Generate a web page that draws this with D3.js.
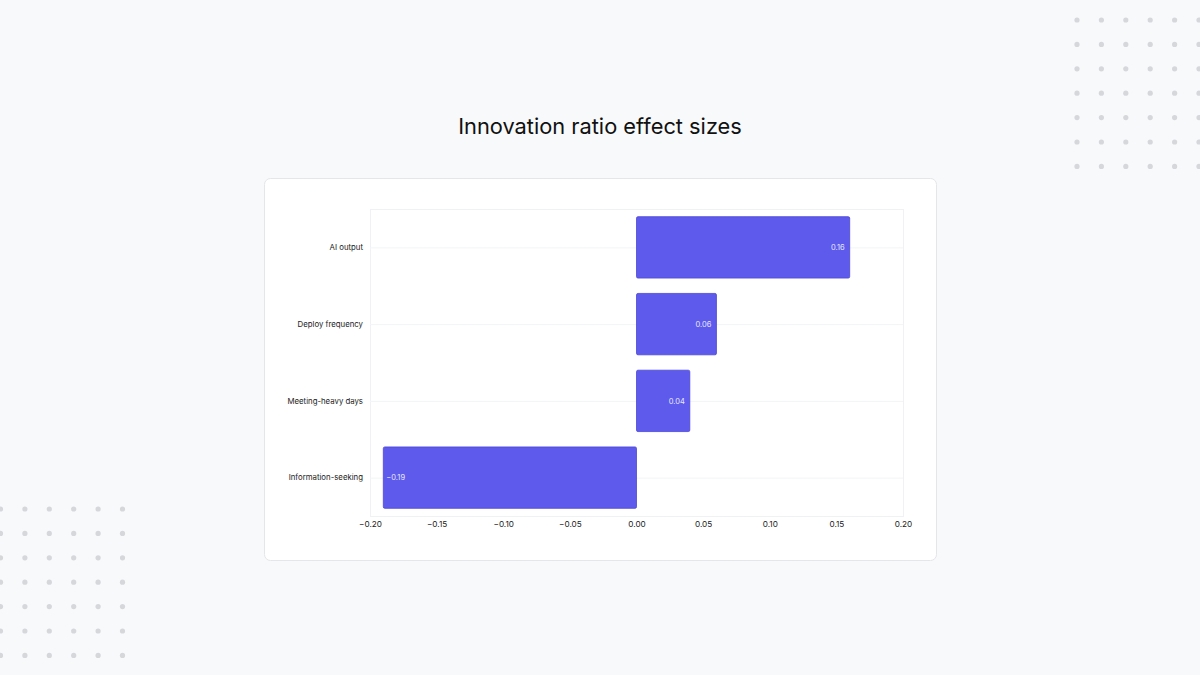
<!DOCTYPE html>
<html>
<head>
<meta charset="utf-8">
<script src="https://cdn.jsdelivr.net/npm/d3@7"></script>
<style>
  html, body { margin: 0; padding: 0; background: #f8f9fb; }
  svg { display: block; font-family: Inter, "Noto Sans", sans-serif; }
</style>
</head>
<body>
<svg id="chart" width="1200" height="675"></svg>
<script>
let categories = ["AI output", "Deploy frequency", "Meeting-heavy days", "Information-seeking"];
let effects = [0.16, 0.06, 0.04, -0.19];
let xTicks = [-0.20, -0.15, -0.10, -0.05, 0.00, 0.05, 0.10, 0.15, 0.20];

let w = 1200, h = 675;
let svg = d3.select("#chart");

svg.append("rect")
    .attr("width", w)
    .attr("height", h)
    .attr("fill", "#f8f9fb");

// decorative dot grids
function dotGrid(x0, y0, cols, rows, gap) {
    let g = svg.append("g");
    d3.range(rows).forEach(function (r) {
        d3.range(cols).forEach(function (c) {
            g.append("circle")
                .attr("cx", x0 + c * gap)
                .attr("cy", y0 + r * gap)
                .attr("r", 2.6)
                .attr("fill", "#d6d7db");
        });
    });
}
dotGrid(1077, 20, 6, 7, 24.4);
dotGrid(0.5, 509, 6, 7, 24.4);

svg.append("text")
    .attr("x", 600)
    .attr("y", 134)
    .attr("text-anchor", "middle")
    .attr("font-size", 21.8)
    .attr("fill", "#111")
    .text("Innovation ratio effect sizes");

// card
svg.append("rect")
    .attr("x", 264.5)
    .attr("y", 178.5)
    .attr("width", 672)
    .attr("height", 382)
    .attr("rx", 6)
    .attr("fill", "#ffffff")
    .attr("stroke", "#e4e6ea");

let plot = { left: 370, right: 903, top: 209, bottom: 516 };

let xScale = d3.scaleLinear()
    .domain([-0.2, 0.2])
    .range([plot.left, plot.right]);

let yScale = d3.scaleBand()
    .domain(categories)
    .range([plot.top, plot.bottom])
    .paddingInner(0.2)
    .paddingOuter(0.1);

// plot frame
svg.append("rect")
    .attr("x", plot.left + 0.5)
    .attr("y", plot.top + 0.5)
    .attr("width", plot.right - plot.left)
    .attr("height", plot.bottom - plot.top)
    .attr("fill", "none")
    .attr("stroke", "#f0f1f3");

// horizontal grid at category centres
svg.selectAll("line.grid")
    .data(categories)
    .enter()
    .append("line")
    .attr("class", "grid")
    .attr("x1", plot.left)
    .attr("x2", plot.right)
    .attr("y1", function (d) { return yScale(d) + yScale.bandwidth() / 2 + 0.5; })
    .attr("y2", function (d) { return yScale(d) + yScale.bandwidth() / 2 + 0.5; })
    .attr("stroke", "#f3f4f6");

let data = categories.map(function (c, i) {
    return { label: c, value: effects[i] };
});

svg.selectAll("rect.bar")
    .data(data)
    .enter()
    .append("rect")
    .attr("class", "bar")
    .attr("x", function (d) { return xScale(Math.min(0, d.value)); })
    .attr("y", function (d) { return yScale(d.label); })
    .attr("width", function (d) { return Math.abs(xScale(d.value) - xScale(0)); })
    .attr("height", yScale.bandwidth())
    .attr("rx", 1.5)
    .attr("fill", "#5d5aec")
    .attr("stroke", "#4b45d8")
    .attr("stroke-width", 0.8);

svg.selectAll("text.val")
    .data(data)
    .enter()
    .append("text")
    .attr("class", "val")
    .attr("x", function (d) {
        return d.value >= 0 ? xScale(d.value) - 5 : xScale(d.value) + 3;
    })
    .attr("y", function (d) { return yScale(d.label) + yScale.bandwidth() / 2; })
    .attr("dy", "0.35em")
    .attr("text-anchor", function (d) { return d.value >= 0 ? "end" : "start"; })
    .attr("font-size", 7.5)
    .attr("fill", "#e8e8ff")
    .text(function (d) { return d3.format(".2f")(d.value); });

// category labels
svg.selectAll("text.cat")
    .data(categories)
    .enter()
    .append("text")
    .attr("class", "cat")
    .attr("x", 363)
    .attr("y", function (d) { return yScale(d) + yScale.bandwidth() / 2; })
    .attr("dy", "0.35em")
    .attr("text-anchor", "end")
    .attr("font-size", 7.8)
    .attr("fill", "#222")
    .text(function (d) { return d; });

// x axis labels
let xAxis = d3.axisBottom(xScale)
    .tickValues(xTicks)
    .tickSize(0)
    .tickPadding(5)
    .tickFormat(function (d) { return d3.format(".2f")(d).replace("-", "\u2212"); });

let ax = svg.append("g")
    .attr("transform", "translate(0," + plot.bottom + ")")
    .call(xAxis);
ax.select(".domain").remove();
ax.selectAll("text")
    .attr("font-family", "Inter, 'Noto Sans', sans-serif")
    .attr("font-size", 8.2)
    .attr("fill", "#222");
</script>
</body>
</html>
